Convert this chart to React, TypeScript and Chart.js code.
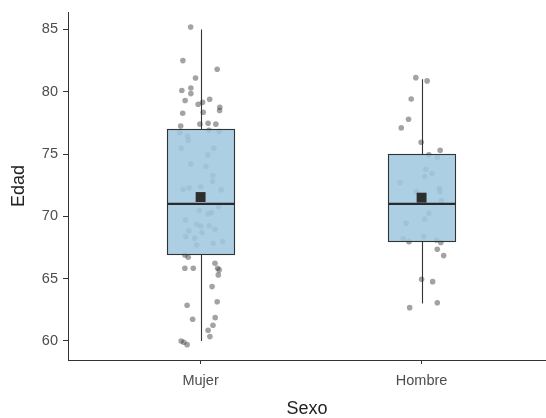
import React, { useEffect, useRef } from 'react';
import { Chart, registerables } from 'chart.js';

Chart.register(...registerables);

const categories = ['Mujer', 'Hombre'];
const q1 = [67, 68];
const median = [71, 71];
const q3 = [77, 75];
const whiskerLow = [60, 63];
const whiskerHigh = [85, 81];
const means = [71.55, 71.5];
const yTicks = [60, 65, 70, 75, 80, 85];

const mujerJitter = [
  -0.045, -0.080, 0.075, -0.023, -0.085, -0.044, -0.044, -0.070, 0.041, 0.009,
  -0.011, 0.087, 0.086, 0.012, -0.081, -0.090, -0.003, 0.034, 0.069, -0.094,
  -0.059, -0.056, 0.038, 0.084, -0.088, 0.060, 0.033, -0.044, 0.024, 0.056,
  0.054, 0.001, -0.052, -0.079, 0.093, 0.081, -0.006, 0.034, 0.050, -0.068,
  -0.018, 0.001, 0.039, 0.065, -0.053, 0.006, -0.067, -0.026, -0.018, 0.057,
  0.100, -0.071, -0.056, -0.071, -0.033, 0.065, 0.077, 0.084, 0.080, 0.052,
  0.075, -0.061, 0.066, -0.036, 0.056, 0.034, 0.042, -0.088, -0.076, -0.061,
];
const mujerEdad = [
  85.2, 82.5, 81.8, 81.1, 80.1, 80.3, 79.85, 79.3, 79.4, 79.15,
  79.0, 78.75, 78.5, 78.35, 78.27, 77.25, 77.4, 77.47, 77.4, 76.7,
  76.45, 76.1, 76.9, 76.8, 75.47, 75.47, 74.93, 74.2, 74.0, 73.27,
  72.8, 72.38, 72.3, 72.17, 72.12, 70.78, 70.46, 70.2, 70.3, 69.71,
  69.36, 69.23, 69.25, 68.96, 68.83, 68.7, 68.37, 68.24, 67.7, 67.84,
  67.97, 66.9, 66.72, 65.83, 65.83, 66.24, 65.83, 65.7, 65.3, 64.36,
  63.15, 62.86, 61.87, 61.74, 61.26, 60.86, 60.35, 60.0, 59.9, 59.7,
];
const hombreJitter = [
  -0.026, 0.025, -0.047, -0.059, -0.092, -0.002, 0.084, 0.033, 0.071, 0.019,
  0.047, 0.014, -0.098, 0.080, 0.083, -0.023, 0.090, 0.033, 0.014, -0.070,
  0.010, -0.083, -0.057, 0.068, 0.087, 0.071, 0.100, 0.000, 0.050, -0.054,
  0.071,
];
const hombreEdad = [
  81.13, 80.87, 79.42, 77.79, 77.1, 75.95, 75.3, 74.93, 74.74, 73.78,
  73.46, 73.19, 72.7, 72.25, 71.98, 71.98, 71.26, 70.25, 69.79, 69.45,
  68.37, 68.19, 67.97, 68.1, 67.9, 67.36, 66.85, 64.95, 64.76, 62.67,
  63.07,
];

const FONT = "'Liberation Sans', Arial, sans-serif";
const BOX_HALF = 0.15;

const boxPlugin = {
  id: 'boxes',
  afterDatasetDraw(chart: any, args: any) {
    if (args.index !== 1) return;
    const { ctx } = chart;
    const x = chart.scales.x;
    const y = chart.scales.y;
    ctx.save();
    categories.forEach((_, i) => {
      const cx = Math.round(x.getPixelForValue(i)) + 0.5;
      const l = Math.round(x.getPixelForValue(i - BOX_HALF)) + 0.5;
      const r = Math.round(x.getPixelForValue(i + BOX_HALF)) + 0.5;
      const yq1 = Math.round(y.getPixelForValue(q1[i])) + 0.5;
      const yq3 = Math.round(y.getPixelForValue(q3[i])) + 0.5;
      const yMed = y.getPixelForValue(median[i]);
      const yLo = y.getPixelForValue(whiskerLow[i]);
      const yHi = y.getPixelForValue(whiskerHigh[i]);
      ctx.strokeStyle = '#333333';
      ctx.lineWidth = 1.1;
      ctx.beginPath();
      ctx.moveTo(cx, yHi);
      ctx.lineTo(cx, yq3);
      ctx.moveTo(cx, yq1);
      ctx.lineTo(cx, yLo);
      ctx.stroke();
      ctx.fillStyle = 'rgba(160,200,224,0.88)';
      ctx.fillRect(l, yq3, r - l, yq1 - yq3);
      ctx.strokeRect(l, yq3, r - l, yq1 - yq3);
      ctx.strokeStyle = '#2b2b2b';
      ctx.lineWidth = 2.2;
      ctx.beginPath();
      ctx.moveTo(l, yMed);
      ctx.lineTo(r, yMed);
      ctx.stroke();
    });
    ctx.restore();
  },
};

export default function App() {
  const ref = useRef<HTMLCanvasElement | null>(null);

  useEffect(() => {
    if (!ref.current) return;
    const points = [
      ...mujerEdad.map((v, k) => ({ x: 0 + mujerJitter[k], y: v })),
      ...hombreEdad.map((v, k) => ({ x: 1 + hombreJitter[k], y: v })),
    ];
    const meanPts = means.map((m, i) => ({ x: i, y: m }));
    const chart = new Chart(ref.current, {
      type: 'scatter',
      data: {
        datasets: [
          {
            label: 'Media',
            data: meanPts,
            pointStyle: 'rect',
            pointRadius: 7,
            backgroundColor: '#2e2e2e',
            borderWidth: 0,
          },
          {
            label: 'Edad',
            data: points,
            pointRadius: 2.8,
            backgroundColor: 'rgba(60,60,60,0.47)',
            borderWidth: 0,
          },
        ],
      },
      options: {
        animation: false,
        responsive: false,
        layout: { autoPadding: false, padding: { top: 12, left: 0, right: 0, bottom: 0 } },
        plugins: { legend: { display: false }, tooltip: { enabled: false } },
        scales: {
          x: {
            type: 'linear',
            min: -0.6,
            max: 1.563,
            afterBuildTicks: (s: any) => {
              s.ticks = categories.map((_, i) => ({ value: i }));
            },
            afterFit: (s: any) => {
              s.height = 58;
              s.paddingLeft = 0;
              s.paddingRight = 0;
            },
            ticks: {
              callback: (v: any) => categories[v] ?? '',
              font: { family: FONT, size: 14.5 },
              color: '#4d4d4d',
              padding: 8,
              maxRotation: 0,
              autoSkip: false,
            },
            grid: {
              drawOnChartArea: false,
              drawTicks: true,
              tickLength: 4,
              color: '#333',
              tickColor: '#333',
            },
            border: { display: true, color: '#333', width: 1 },
            title: {
              display: true,
              text: 'Sexo',
              font: { family: FONT, size: 18, lineHeight: 1 },
              color: '#222',
              padding: { top: 0, bottom: 0 },
            },
          },
          y: {
            type: 'linear',
            min: 58.47,
            max: 86.4,
            afterBuildTicks: (s: any) => {
              s.ticks = yTicks.map((v) => ({ value: v }));
            },
            afterFit: (s: any) => {
              s.width = 68;
              s.paddingTop = 0;
              s.paddingBottom = 0;
            },
            ticks: {
              font: { family: FONT, size: 14.5 },
              color: '#4d4d4d',
              padding: 5,
            },
            grid: {
              drawOnChartArea: false,
              drawTicks: true,
              tickLength: 5,
              color: '#333',
              tickColor: '#333',
            },
            border: { display: true, color: '#333', width: 1 },
            title: {
              display: true,
              text: 'Edad',
              font: { family: FONT, size: 18, lineHeight: 1 },
              color: '#222',
              padding: { top: 10, bottom: 0 },
            },
          },
        },
      },
      plugins: [boxPlugin],
    });
    return () => chart.destroy();
  }, []);

  return (
    <div style={{ position: 'fixed', left: 0, top: 0, width: 546, height: 418, background: '#fff' }}>
      <canvas ref={ref} width={546} height={418} style={{ display: 'block' }} />
    </div>
  );
}
